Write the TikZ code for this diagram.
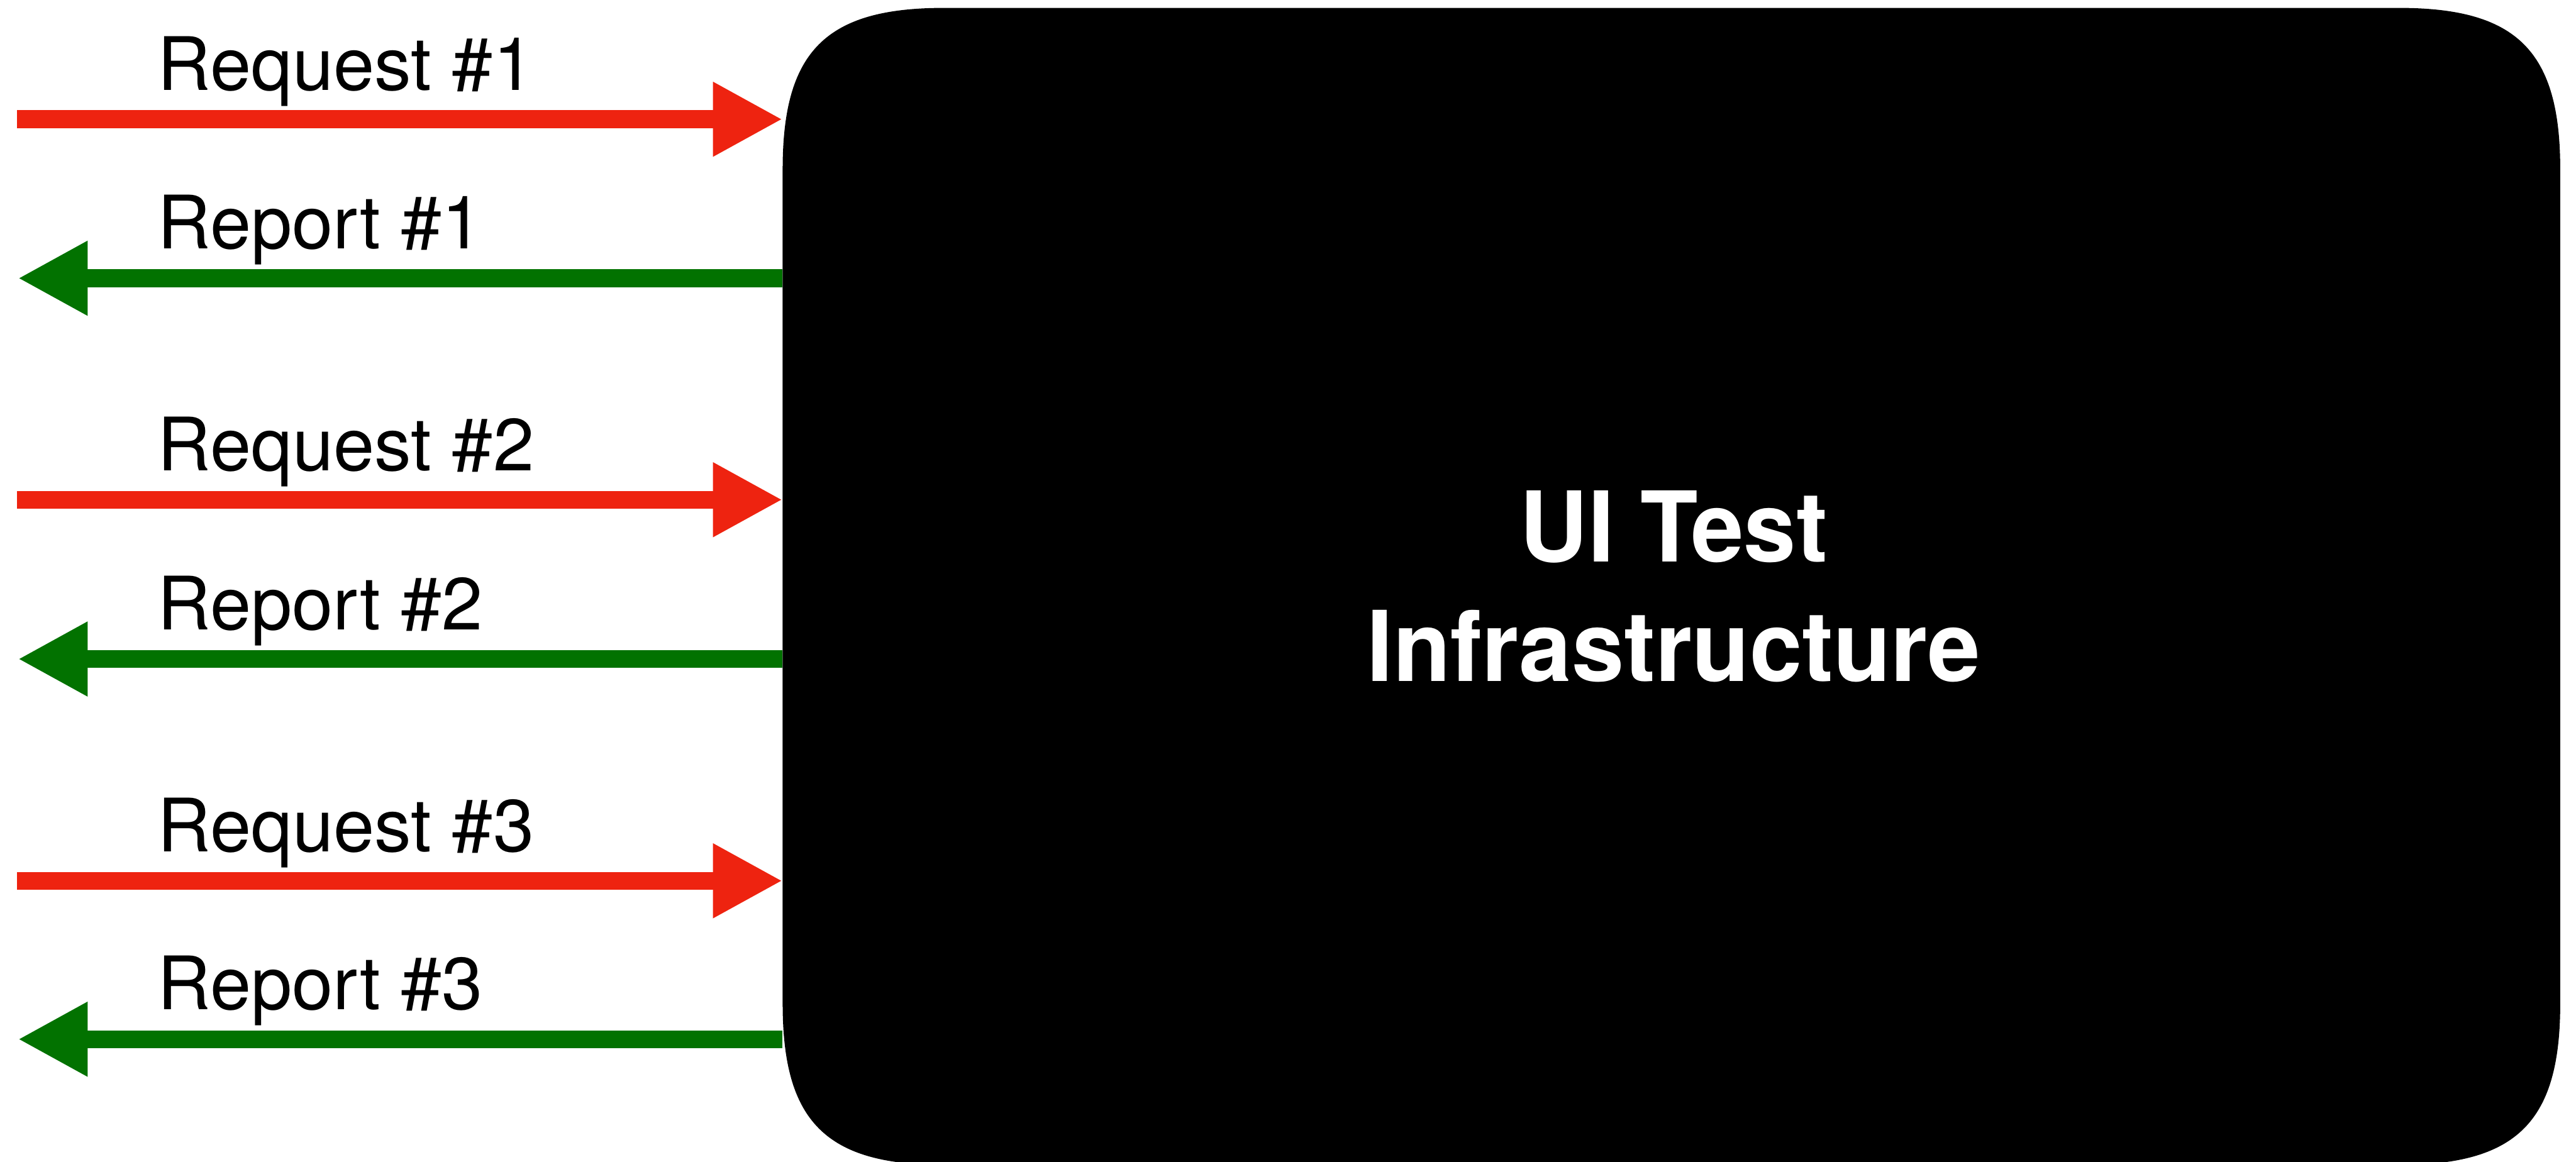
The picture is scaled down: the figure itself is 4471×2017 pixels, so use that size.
\documentclass[tikz,border=0pt]{standalone}
\usepackage{fontspec}
\setmainfont{TeX Gyre Heros}
\newfontfamily\titlefont[FakeStretch=0.965]{TeX Gyre Heros}
\usetikzlibrary{arrows.meta,calc}
\definecolor{reqred}{RGB}{238,35,16}
\definecolor{repgreen}{RGB}{2,114,0}
\begin{document}
\begin{tikzpicture}[x=0.01cm,y=-0.01cm,
  flow/.style={line width=3.1mm, -{Triangle[length=12.1mm,width=12.1mm]}},
  request/.style={flow, draw=reqred},
  report/.style={flow, draw=repgreen},
  lbl/.style={anchor=base west, inner sep=0pt, font=\fontsize{36.4}{40}\selectfont},
  title/.style={align=center, text=white, inner sep=0pt,
    font=\titlefont\bfseries\fontsize{48.2}{59.2}\selectfont},
  infrabox/.style={inner sep=0pt, minimum width=30.82cm, minimum height=20.06cm}]
\clip (0,0) rectangle (4471,2017);

% the infrastructure block with smooth (continuous) corners
\node[infrabox] (infra) at (2901,1018) {};
\fill[black]
  ([shift={(0,280)}]infra.north west)
  .. controls ([shift={(0,75)}]infra.north west) and ([shift={(75,0)}]infra.north west) ..
  ([shift={(280,0)}]infra.north west)
  -- ([shift={(-280,0)}]infra.north east)
  .. controls ([shift={(-75,0)}]infra.north east) and ([shift={(0,75)}]infra.north east) ..
  ([shift={(0,280)}]infra.north east)
  -- ([shift={(0,-280)}]infra.south east)
  .. controls ([shift={(0,-75)}]infra.south east) and ([shift={(-75,0)}]infra.south east) ..
  ([shift={(-280,0)}]infra.south east)
  -- ([shift={(280,0)}]infra.south west)
  .. controls ([shift={(75,0)}]infra.south west) and ([shift={(0,-75)}]infra.south west) ..
  ([shift={(0,-280)}]infra.south west)
  -- cycle;
\node[title] (title) at ([xshift=0.04cm]infra.center) {UI Test\\Infrastructure};

% outer ends of the request / report connectors
\coordinate (req1) at (30,207);
\coordinate (rep1) at (31,483);
\coordinate (req2) at (30,867.5);
\coordinate (rep2) at (31,1144);
\coordinate (req3) at (30,1529);
\coordinate (rep3) at (31,1804);

\draw[request] (req1) -- (req1 -| infra.west);
\draw[report]  (rep1 -| infra.west) -- (rep1);
\draw[request] (req2) -- (req2 -| infra.west);
\draw[report]  (rep2 -| infra.west) -- (rep2);
\draw[request] (req3) -- (req3 -| infra.west);
\draw[report]  (rep3 -| infra.west) -- (rep3);

% labels
\node[lbl] (lreq1) at (273,157) {Request \#1};
\node[lbl] (lrep1) at (273,432) {Report \#1};
\node[lbl] (lreq2) at (273,817.5) {Request \#2};
\node[lbl] (lrep2) at (273,1093) {Report \#2};
\node[lbl] (lreq3) at (273,1479) {Request \#3};
\node[lbl] (lrep3) at (273,1753) {Report \#3};
\end{tikzpicture}
\end{document}
